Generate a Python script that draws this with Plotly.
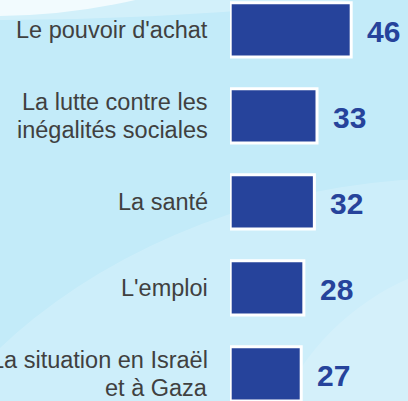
import plotly.graph_objects as go

categories = [
    "Le pouvoir d'achat",
    "La lutte contre les<br>inégalités sociales",
    "La santé",
    "L'emploi",
    "La situation en Israël<br>et à Gaza",
]
values = [46, 33, 32, 28, 27]

bar_color = "#26439b"
label_color = "#404040"
FONT = "Liberation Sans, Arial, sans-serif"

W, H, L = 408, 401, 230


def px_x(px):
    return (px - L) / (W - L)


def px_y(py):
    return 1 - py / H


def circle(cx, cy, rx, ry, fill):
    return dict(type="circle", xref="paper", yref="paper",
                x0=px_x(cx - rx), x1=px_x(cx + rx),
                y0=px_y(cy + ry), y1=px_y(cy - ry),
                fillcolor=fill, line=dict(width=0), layer="below")


fig = go.Figure()
fig.add_trace(go.Bar(
    x=values,
    y=categories,
    orientation="h",
    width=0.63,
    marker=dict(color=bar_color, line=dict(color="white", width=3)),
    hoverinfo="skip",
))

# value labels
for cat, val in zip(categories, values):
    fig.add_annotation(
        x=val, y=cat, text=f"<b>{val}</b>", showarrow=False,
        xanchor="left", yanchor="middle", xshift=14, yshift=-1.5,
        font=dict(size=30, color=bar_color, family=FONT),
    )

# category labels (line by line, to control the line spacing)
LINE = 27.5
for cat in categories:
    lines = cat.split("<br>")
    n = len(lines)
    for i, line in enumerate(lines):
        fig.add_annotation(
            xref="paper", x=0, y=cat, text=line, showarrow=False,
            xanchor="right", yanchor="middle", xshift=-20,
            yshift=((n - 1) / 2 - i) * LINE,
            font=dict(size=23.5, color=label_color, family=FONT),
        )

# background decoration
shapes = [
    circle(458, 658, 600, 480, "rgba(255,255,255,0.18)"),
    circle(508, 508, 250, 250, "rgba(255,255,255,0.15)"),
    circle(4, -2992, 3012, 3012, "rgba(255,255,255,0.25)"),
    circle(-3, -590, 606, 606, "rgba(255,255,255,0.7)"),
]

fig.update_layout(
    width=W, height=H,
    margin=dict(l=L, r=0, t=0, b=0, pad=0),
    paper_bgcolor="#c3ebf9",
    plot_bgcolor="rgba(0,0,0,0)",
    showlegend=False,
    shapes=shapes,
    font=dict(family=FONT, size=20, color=label_color),
    xaxis=dict(range=[-0.076, 67.6], visible=False, fixedrange=True),
    yaxis=dict(
        type="category", categoryarray=categories,
        range=[4.315, -0.348],
        showgrid=False, zeroline=False, showline=False,
        showticklabels=False, ticks="",
        fixedrange=True,
    ),
)

fig.write_html(
    "out.html",
    config={"displayModeBar": False, "staticPlot": True},
    post_script="document.body.style.margin='0';document.body.style.overflow='hidden';",
)
